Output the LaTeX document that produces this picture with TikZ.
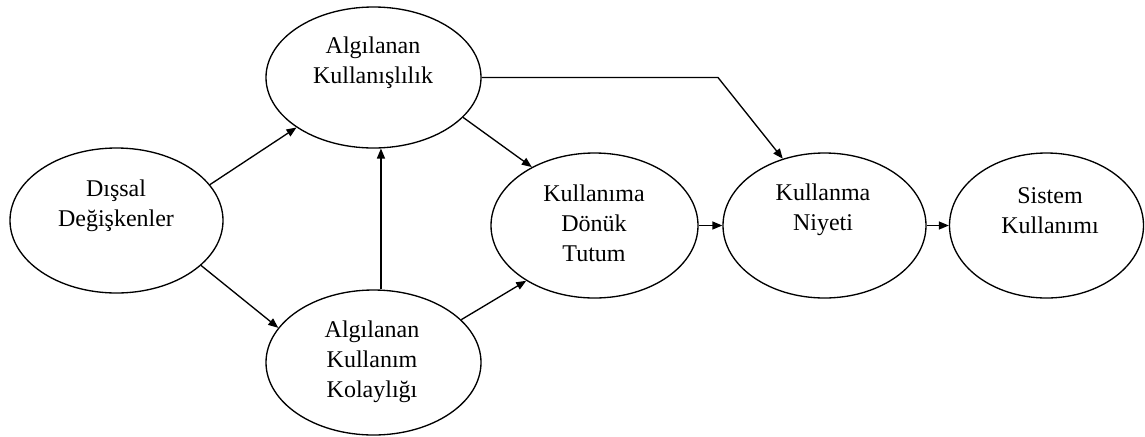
\documentclass[tikz,border=0pt]{standalone}
\usepackage{fontspec}
\setmainfont{Liberation Serif}
\usetikzlibrary{shapes.geometric,arrows.meta}
\begin{document}
\begin{tikzpicture}[x=0.75pt,y=-0.75pt,
  ell/.style={draw, line width=1pt, ellipse, inner sep=0pt, fill=white},
  txt/.style={align=center, font=\fontsize{18}{22.5}\selectfont, inner sep=0pt},
  arr/.style={line width=1pt, -{Triangle[length=7.5pt,width=6pt]}}]
\useasboundingbox (0,0) rectangle (1145,436);
% ellipses
\node[ell, minimum width=159.75pt, minimum height=108.75pt] (a) at (116.5,220.5) {};
\node[ell, minimum width=161.25pt, minimum height=105.75pt] (b) at (373.5,77.5) {};
\node[ell, minimum width=161.25pt, minimum height=108.75pt] (c) at (373.5,362.5) {};
\node[ell, minimum width=155.25pt, minimum height=108.75pt] (d) at (594.5,225.5) {};
\node[ell, minimum width=152.25pt, minimum height=108.75pt] (e) at (824.5,225.5) {};
\node[ell, minimum width=145.5pt, minimum height=108.75pt] (f) at (1046.5,225.5) {};
% texts
\node[txt] (ta) at (116,206) {Dışsal\\Değişkenler};
\node[txt] (tb) at (373,63) {Algılanan\\Kullanışlılık};
\node[txt] (tc) at (372,362) {Algılanan\\Kullanım\\Kolaylığı};
\node[txt] (td) at (594,223) {Kullanıma\\Dönük\\Tutum};
\node[txt] (te) at (823,210) {Kullanma\\Niyeti};
\node[txt] (tf) at (1050,211) {Sistem\\Kullanımı};
% connectors
\draw[arr] (a.21) -- (b.213);
\draw[arr] (a.-28) -- (c.160);
\draw[arr] (c.north -| b.-84) -- (b.-84);
\draw[arr] (b.-24) -- (d.137);
\draw[arr] (c.26) -- (d.219);
\coordinate (bend) at (718,77.5);
\draw[arr] (b.east) -- (bend) -- (e.122);
\draw[arr] (d.east) -- (e.west);
\draw[arr] (e.east) -- (f.west);
\end{tikzpicture}
\end{document}
